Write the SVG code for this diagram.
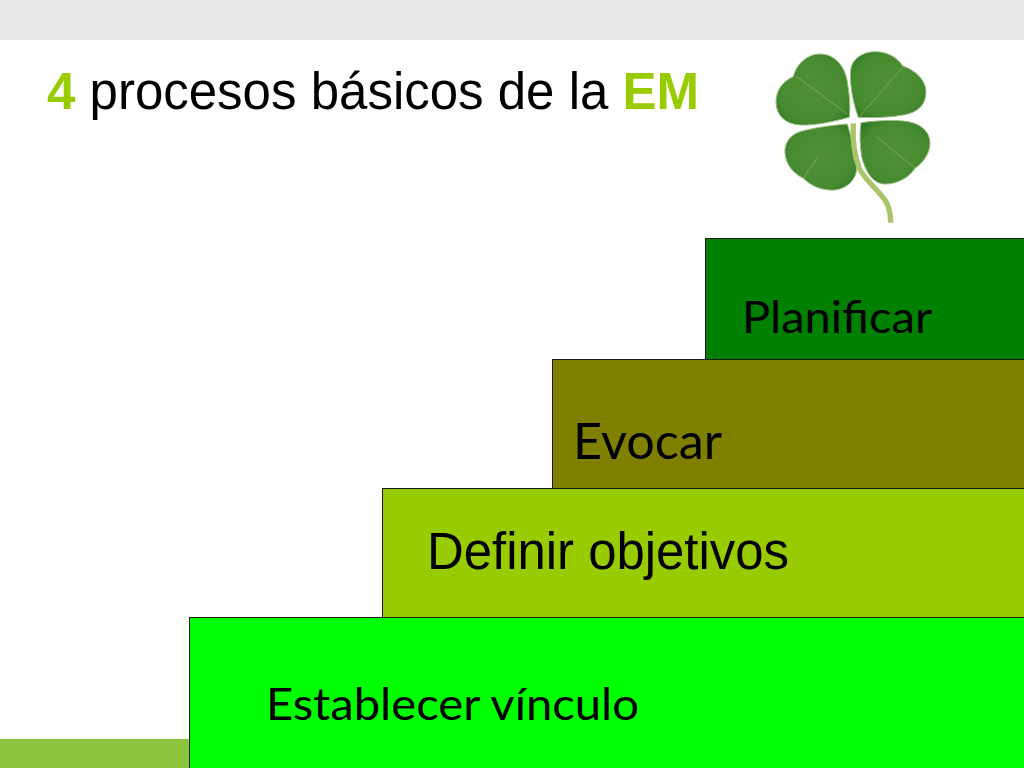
<svg xmlns="http://www.w3.org/2000/svg" width="1024" height="768" viewBox="0 0 1024 768">
<style>
.step{stroke:#1a1a1a;stroke-width:1}
.c{font-family:Lato,"Noto Sans",sans-serif;fill:#000}
.a{font-family:"Liberation Sans",Arial,sans-serif;fill:#000}
.leaf{fill:url(#leafFill);stroke:#9dbf85;stroke-width:3}
.vein{fill:none;stroke:#7fae63;stroke-width:2.500}
</style>
<defs>
<radialGradient id="leafFill" cx="50%" cy="50%" r="65%">
<stop offset="0" stop-color="#4f9135"/><stop offset=".7" stop-color="#478b31"/><stop offset="1" stop-color="#2f7526"/>
</radialGradient>
</defs>
<rect width="1024" height="768" fill="#fff"/>
<rect id="top-band" width="1024" height="40" fill="#e8e8e8"/>
<rect id="bottom-band" x="0" y="739" width="200" height="29" fill="#8cc43c"/>
<text id="title" class="a" x="47" y="109" font-size="51"><tspan fill="#99cc00" font-weight="bold">4</tspan> procesos básicos de la <tspan fill="#99cc00" font-weight="bold">EM</tspan></text>
<g id="clover" transform="translate(760 40) scale(.3333)">
<path class="leaf" d="M268 232C225 243 165 258 120 255C75 252 48 225 48 185C48 150 70 122 100 110C108 75 140 42 180 42C225 42 255 80 262 125C268 160 272 200 268 232Z"/>
<path class="leaf" d="M295 232C280 190 268 135 272 90C276 55 310 34 350 35C385 36 415 55 428 78C465 90 498 120 498 155C498 198 470 218 430 225C385 233 340 234 295 232Z"/>
<path class="leaf" d="M262 252C225 255 165 262 120 275C90 285 72 310 75 340C78 375 100 400 130 415C155 440 190 453 225 450C265 445 290 415 290 385C285 340 275 295 262 252Z"/>
<path class="leaf" d="M303 248C345 242 395 240 430 243C475 247 510 270 510 310C510 340 490 368 465 385C445 418 400 435 370 432C335 428 315 390 305 350C300 315 298 280 303 248Z"/>
<path class="vein" d="M262 222L110 110M300 228L430 80M175 350L130 415M350 290L465 385"/>
<path d="M280 250C278 290 280 340 298 385C315 420 350 445 375 480C388 500 392 525 392 548" fill="none" stroke="#a9c46a" stroke-width="16"/>
</g>
<g id="planificar"><rect class="step" x="705.500" y="238.500" width="320" height="125" fill="#008000"/><text class="c" x="742" y="333" font-size="45" textLength="190" lengthAdjust="spacingAndGlyphs">Planificar</text></g>
<g id="evocar"><rect class="step" x="552.500" y="359.500" width="473" height="133" fill="#808000"/><text class="c" x="573" y="459" font-size="51" textLength="149" lengthAdjust="spacingAndGlyphs">Evocar</text></g>
<g id="definir"><rect class="step" x="382.500" y="488.500" width="643" height="133" fill="#99cc00"/><text class="a" x="427" y="569" font-size="51" textLength="362" lengthAdjust="spacingAndGlyphs">Definir objetivos</text></g>
<g id="establecer"><rect class="step" x="189.500" y="617.500" width="836" height="151" fill="#00ff00"/><text class="c" x="266" y="720" font-size="45" textLength="373" lengthAdjust="spacingAndGlyphs">Establecer vínculo</text></g>
<g id="connectors"></g>
</svg>
